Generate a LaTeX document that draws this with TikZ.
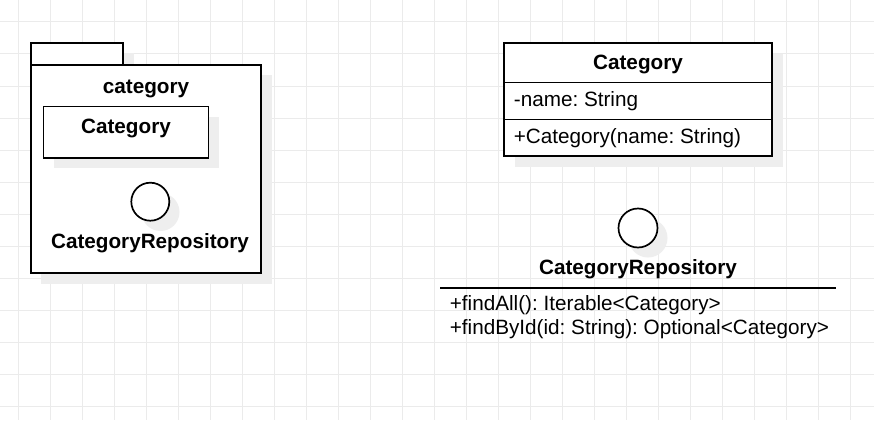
\documentclass[tikz,border=0pt]{standalone}
\usepackage{fontspec}
\setmainfont{Liberation Sans}
\frenchspacing
\definecolor{gridgray}{RGB}{235,235,235}
\definecolor{shadowgray}{RGB}{238,238,238}

\begin{document}
\begin{tikzpicture}[x=1pt,y=-1pt,line width=1.7pt,
    shadowfill/.style={fill=shadowgray,draw=none},
    umlbox/.style={draw=black,fill=white},
    title/.style={inner sep=0pt,anchor=base,font=\fontsize{20.7}{24}\selectfont\bfseries},
    member/.style={inner sep=0pt,anchor=base west,font=\fontsize{20.7}{24}\selectfont}]
      \useasboundingbox (0,0) rectangle (874,420);
      \fill[white] (0,0) rectangle (874,420);
      \foreach \gx in {0,...,26}
        \draw[gridgray,line width=1pt] (18.5+32*\gx,0) -- (18.5+32*\gx,420);
      \foreach \gy in {0,...,12}
        \draw[gridgray,line width=1pt] (0,22+32*\gy) -- (874,22+32*\gy);
      % package
      \fill[shadowfill] (41,53) rectangle (134,75);
      \fill[shadowfill] (41,75) rectangle (272,284);
      \draw[umlbox] (31,43) rectangle (123,65);
      \draw[umlbox] (31,65) rectangle (261,273);
      \node[title] (pkgname) at (146,93) {category};
      \fill[shadowfill] (54,117) rectangle (219,168);
      \draw[umlbox] (43.5,106.5) rectangle (208.5,158);
      \node[title] (pkgclass) at (126,133) {Category};
      \fill[shadowfill] (160.5,212) circle (19pt);
      \draw[umlbox] (150.3,201.7) circle (19pt);
      \node[title] (pkgrepo) at (150,248.3) {CategoryRepository};
      % class
      \fill[shadowfill] (515,54) rectangle (783,167);
      \draw[umlbox] (504,43) rectangle (772,156);
      \draw (504,82.5) -- (772,82.5);
      \draw (504,119.5) -- (772,119.5);
      \node[title] (clsname) at (638,70) {Category};
      \node[member] (clsattr) at (513,106.7) {-name: String};
      \node[member] (clsctor) at (513,143.3) {+Category(name: String)};
      % interface
      \fill[shadowfill] (648,238) circle (19.5pt);
      \draw[umlbox] (638,228) circle (19.5pt);
      \node[title] (ifname) at (638,274) {CategoryRepository};
      \draw (440,287.7) -- (836,287.7);
      \node[member] (ifall) at (449,310.7) {+findAll(): Iterable<Category>};
      \node[member] (ifbyid) at (449,334) {+findById(id: String): Optional<Category>};
\end{tikzpicture}
\end{document}
